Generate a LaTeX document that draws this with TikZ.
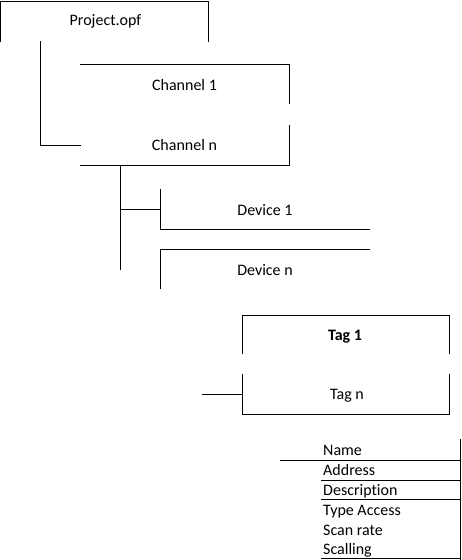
\documentclass[tikz,border=0pt]{standalone}
\usepackage{fontspec}
\setmainfont[Ligatures=NoCommon]{Carlito}
\tikzset{
  lbl/.style={font=\fontsize{16}{19}\selectfont, inner sep=0pt, text height=11pt, text depth=3pt, yshift=-1pt},
  row/.style={lbl, anchor=west},
  edge/.style={line width=1pt, line cap=rect},
}
\begin{document}
\begin{tikzpicture}[x=1pt,y=-1pt]
\useasboundingbox (0,0) rectangle (461,560);
% Project
\node[lbl] (proj) at (105.5,20) {Project.opf};
\draw[edge] (0.5,41) -- (0.5,1) -- (208,1) -- (208,41);
% Channels
\node[lbl] (ch1) at (184.5,85) {Channel 1};
\draw[edge] (80,64) -- (289,64) -- (289,103);
\node[lbl] (chn) at (184.5,145) {Channel n};
\draw[edge] (289,125) -- (289,165) -- (80,165);
\coordinate (pj) at (40,41);
\coordinate (chnL) at (80,145);
\draw[edge] (pj) |- (chnL);
% Devices
\node[lbl] (dev1) at (265,210) {Device 1};
\draw[edge] (160,189) -- (160,229) -- (369,229);
\node[lbl] (devn) at (265,270) {Device n};
\draw[edge] (369,249) -- (160,249) -- (160,288);
\coordinate (chB) at (120,165);
\coordinate (chE) at (120,269);
\coordinate (dv) at (120,209);
\coordinate (dev1L) at (160,209);
\draw[edge] (chB) -- (chE);
\draw[edge] (dv) -- (dev1L);
% Tags
\node[lbl, font=\fontsize{16}{19}\selectfont\bfseries] (tag1) at (345,335) {Tag 1};
\draw[edge] (242,353) -- (242,315) -- (449,315) -- (449,353);
\node[lbl] (tagn) at (347,394) {Tag n};
\draw[edge] (242,374) -- (242,414) -- (449,414) -- (449,374);
\coordinate (tagnL) at (242,394);
\coordinate (tagfree) at (202,394);
\draw[edge] (tagfree) -- (tagnL);
% Tag fields
\node[row] (f1) at (323,450) {Name};
\node[row] (f2) at (323,470) {Address};
\node[row] (f3) at (323,490) {Description};
\node[row] (f4) at (323,510) {Type Access};
\node[row] (f5) at (323,530) {Scan rate};
\node[row] (f6) at (323,549) {Scalling};
\draw[edge] (460,439) -- (460,560);
\draw[edge] (280,460) -- (460,460);
\draw[edge] (321,480) -- (460,480);
\draw[edge] (321,499) -- (460,499);
\draw[edge] (321,558) -- (460,558);
\end{tikzpicture}
\end{document}
